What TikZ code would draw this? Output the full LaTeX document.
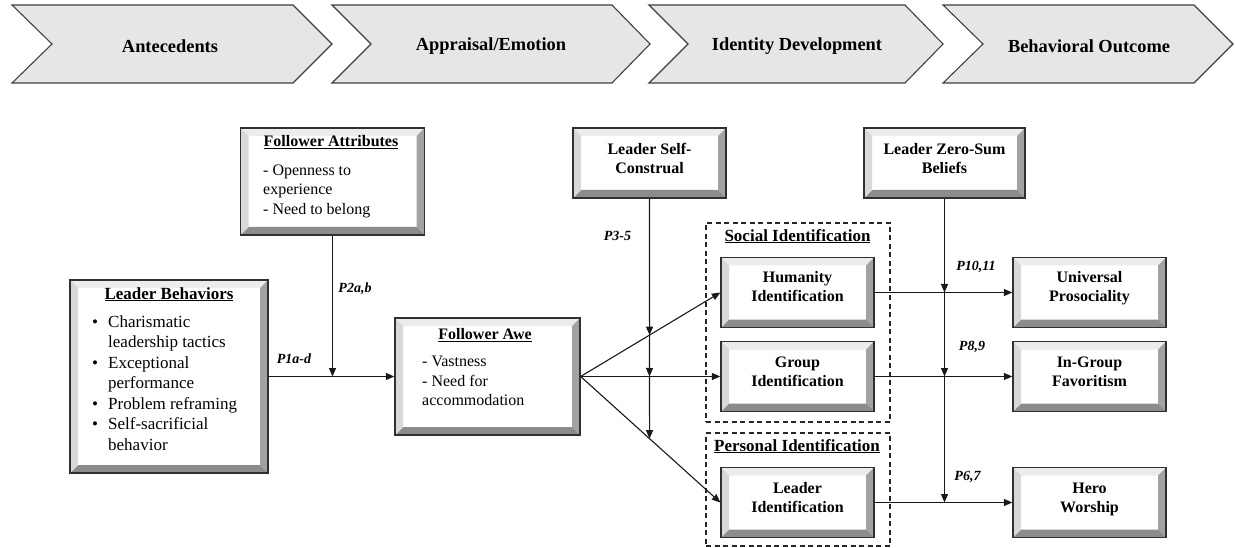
\documentclass[tikz,border=0pt]{standalone}
\usepackage{fontspec}
\setmainfont{LiberationSerif}[Extension=.ttf, UprightFont=*-Regular, BoldFont=*-Bold, ItalicFont=*-Italic, BoldItalicFont=*-BoldItalic]
\usetikzlibrary{arrows.meta}
\definecolor{chevfill}{HTML}{E6E6E6}
\definecolor{chevline}{HTML}{404040}
\definecolor{bevT}{HTML}{ECECEC}
\definecolor{bevL}{HTML}{D8D8D8}
\definecolor{bevR}{HTML}{A2A2A2}
\definecolor{bevB}{HTML}{8C8C8C}
\definecolor{boxline}{HTML}{303030}
\begin{document}
\begin{tikzpicture}[x=1pt,y=-1pt,
  chev/.style={fill=chevfill, draw=chevline, line width=1.1pt, line join=miter},
  chevtext/.style={font=\fontsize{18.4}{22}\selectfont\bfseries, inner sep=0pt},
  bevelbox/.style={draw=boxline, line width=1.3pt, fill=white, inner sep=0pt,
    path picture={
      \coordinate (pSW) at (path picture bounding box.south west);
      \coordinate (pNE) at (path picture bounding box.north east);
      \coordinate (pNW) at (pSW |- pNE);
      \coordinate (pSE) at (pNE |- pSW);
      \fill[bevT] (pNW) -- (pNE) -- ([shift={(-8pt,-8pt)}]pNE) -- ([shift={(8pt,-8pt)}]pNW) -- cycle;
      \fill[bevR] (pNE) -- (pSE) -- ([shift={(-8pt,8pt)}]pSE) -- ([shift={(-8pt,-8pt)}]pNE) -- cycle;
      \fill[bevB] (pSE) -- (pSW) -- ([shift={(8pt,8pt)}]pSW) -- ([shift={(-8pt,8pt)}]pSE) -- cycle;
      \fill[bevL] (pSW) -- (pNW) -- ([shift={(8pt,-8pt)}]pNW) -- ([shift={(8pt,8pt)}]pSW) -- cycle;
    }},
  smallbox/.style={bevelbox, minimum width=153pt, minimum height=70pt},
  dashbox/.style={draw=black!85, line width=1.1pt, dash pattern=on 5pt off 3.5pt, inner sep=0pt},
  btext/.style={font=\fontsize{16}{19.2}\selectfont\bfseries, align=center, inner sep=0pt},
  ttl16/.style={font=\fontsize{16}{19.2}\selectfont\bfseries, inner sep=0pt},
  ttl17/.style={font=\fontsize{17}{20.4}\selectfont\bfseries, inner sep=0pt},
  list16/.style={font=\fontsize{16}{19.4}\selectfont, align=left, inner sep=0pt, anchor=west},
  list17/.style={font=\fontsize{17}{20.5}\selectfont, align=left, inner sep=0pt, anchor=west},
  plabel/.style={font=\fontsize{14}{17}\selectfont\bfseries\itshape, inner sep=0pt},
  conn/.style={draw=black!90, line width=1.1pt},
  arr/.style={conn, -{Triangle[length=8.5pt,width=7pt]}}
]
\useasboundingbox (0,0) rectangle (1235,548);

% ---- stage chevrons ----
\draw[chev] (12,5) -- (293,5) -- (332,44) -- (293,83) -- (12,83) -- (52,44) -- cycle;
\draw[chev] (332,5) -- (612,5) -- (650,44) -- (612,83) -- (332,83) -- (371,44) -- cycle;
\draw[chev] (649,5) -- (905,5) -- (943,44) -- (905,83) -- (649,83) -- (688,44) -- cycle;
\draw[chev] (943,5) -- (1194,5) -- (1233,44) -- (1194,83) -- (943,83) -- (983,44) -- cycle;
\node[chevtext] (st1) at (170,46.5) {Antecedents};
\node[chevtext] (st2) at (491,46.5) {Appraisal/Emotion};
\node[chevtext] (st3) at (797,46.5) {Identity Development};
\node[chevtext] (st4) at (1089,46.5) {Behavioral Outcome};

% ---- dashed groups ----
\node[dashbox, minimum width=184pt, minimum height=199pt] (social) at (798,322.5) {};
\node[dashbox, minimum width=184pt, minimum height=113pt] (personal) at (798,489.5) {};
\node[ttl17] (social-t) at (797.5,237) {\strut\underline{Social Identification}};
\node[ttl17] (personal-t) at (797,447) {\strut\underline{Personal Identification}};

% ---- boxes ----
\node[bevelbox, minimum width=198pt, minimum height=193pt] (LB) at (169,376.5) {};
\node[bevelbox, minimum width=184pt, minimum height=107pt] (FA) at (332.5,181.5) {};
\node[bevelbox, minimum width=185pt, minimum height=117pt] (AWE) at (487.5,376.5) {};
\node[smallbox] (LSC) at (649.5,163) {};
\node[bevelbox, minimum width=161pt, minimum height=70pt] (LZS) at (944.5,163) {};
\node[smallbox] (HUM) at (797.5,292.5) {};
\node[smallbox] (GRP) at (797.5,376.5) {};
\node[smallbox] (LID) at (797.5,502.5) {};
\node[smallbox] (UP) at (1089.5,292.5) {};
\node[smallbox] (IGF) at (1089.5,376.5) {};
\node[smallbox] (HW) at (1089.5,502.5) {};

% ---- box texts ----
\node[ttl17] (LB-t) at (169,295) {\strut\underline{Leader Behaviors}};
\node[list17] (LB-l) at (92,384.5) {\strut\makebox[16pt][l]{\textbullet}Charismatic\\
  \hspace*{16pt}leadership tactics\\
  \makebox[16pt][l]{\textbullet}Exceptional\\
  \hspace*{16pt}performance\\
  \makebox[16pt][l]{\textbullet}Problem reframing\\
  \makebox[16pt][l]{\textbullet}Self-sacrificial\\
  \hspace*{16pt}behavior\strut};
\node[ttl16] (FA-t) at (331,143) {\strut\underline{Follower Attributes}};
\node[list16] (FA-l) at (263,191) {\strut- Openness to\\experience\\- Need to belong\strut};
\node[ttl16] (AWE-t) at (485,336) {\strut\underline{Follower Awe}};
\node[list16] (AWE-l) at (422,382.5) {\strut- Vastness\\- Need for\\accommodation\strut};
\node[btext] (LSC-t) at (649.5,160) {\strut Leader Self-\\Construal\strut};
\node[btext] (LZS-t) at (944.5,160) {\strut Leader Zero-Sum\\Beliefs\strut};
\node[btext] (HUM-t) at (797.5,288.5) {\strut Humanity\\Identification\strut};
\node[btext] (GRP-t) at (797.5,373.5) {\strut Group\\Identification\strut};
\node[btext] (LID-t) at (797.5,499.5) {\strut Leader\\Identification\strut};
\node[btext] (UP-t) at (1089.5,288.5) {\strut Universal\\Prosociality\strut};
\node[btext] (IGF-t) at (1089.5,373.5) {\strut In-Group\\Favoritism\strut};
\node[btext] (HW-t) at (1089.5,499.5) {\strut Hero\\Worship\strut};

% ---- connectors ----
\draw[arr] (LB.east) -- (AWE.west);
\draw[arr] (FA.south) -- (FA.south |- LB.east);
\draw[arr] (AWE.east) -- (HUM.west);
\draw[arr] (AWE.east) -- (GRP.west);
\draw[arr] (AWE.east) -- (LID.west);
\coordinate (a1) at (intersection of LSC.south--LSC.north and AWE.east--HUM.west);
\coordinate (a2) at (LSC.south |- GRP.west);
\coordinate (a3) at (intersection of LSC.south--LSC.north and AWE.east--LID.west);
\draw[arr] (LSC.south) -- (a1);
\draw[arr] (a1) -- (a2);
\draw[arr] (a2) -- (a3);
\draw[arr] (HUM.east) -- (UP.west);
\draw[arr] (GRP.east) -- (IGF.west);
\draw[arr] (LID.east) -- (HW.west);
\coordinate (b1) at (LZS.south |- HUM.east);
\coordinate (b2) at (LZS.south |- GRP.east);
\coordinate (b3) at (LZS.south |- LID.east);
\draw[arr] (LZS.south) -- (b1);
\draw[arr] (b1) -- (b2);
\draw[arr] (b2) -- (b3);

% ---- labels ----
\node[plabel] (p1) at (294,359) {P1a-d};
\node[plabel] (p2) at (355,289) {P2a,b};
\node[plabel] (p3) at (617.5,236) {P3-5};
\node[plabel] (p10) at (976,267) {P10,11};
\node[plabel] (p8) at (972,347) {P8,9};
\node[plabel] (p6) at (967.5,477) {P6,7};
\end{tikzpicture}
\end{document}
